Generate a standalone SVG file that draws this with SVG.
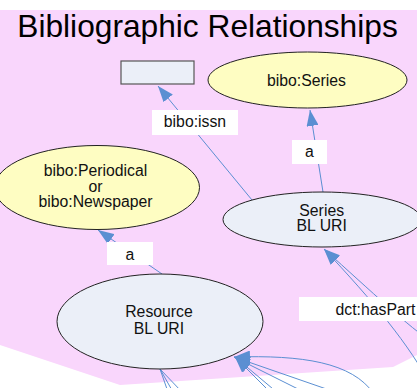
<svg xmlns="http://www.w3.org/2000/svg" width="417" height="388" viewBox="0 0 417 388">
<defs>
<style>
.bg{fill:#f9d6fc}
.title{font-family:"Liberation Sans",Arial,sans-serif;font-size:31.7px;fill:#000;text-anchor:middle}
.t{font-family:"Liberation Sans",Arial,sans-serif;font-size:15.8px;fill:#111;text-anchor:middle}
.blue{fill:#ebeff8;stroke:#222;stroke-width:1}
.yellow{fill:#fefdc2;stroke:#222;stroke-width:1}
.box{fill:#ebeff8;stroke:#555;stroke-width:1.2}
.edge{fill:none;stroke:#5b8fd2;stroke-width:1}
.lbl{fill:#fff}
</style>
<marker id="arr" viewBox="0 0 16 12" refX="16" refY="6" markerWidth="16" markerHeight="12" markerUnits="userSpaceOnUse" orient="auto">
<path d="M0,0 L16,6 L0,12 z" fill="#5b8fd2"/>
</marker>
</defs>
<rect x="0" y="0" width="417" height="388" fill="#fff"/>
<polygon class="bg" points="0,10 417,10 417,355 393,367 120,385 0,345"/>
<text class="title" x="207.5" y="37">Bibliographic Relationships</text>

<g id="connectors">
<path class="edge" d="M252,200 L158,86" marker-end="url(#arr)"/>
<path class="edge" d="M323,192 L310,110" marker-end="url(#arr)"/>
<path class="edge" d="M162,274 L98,230" marker-end="url(#arr)"/>
<path class="edge" d="M432,388 C410,345 372,300 324,249" marker-end="url(#arr)"/>
<path class="edge" d="M432,342 C410,328 372,292 324,249" marker-end="url(#arr)"/>
<path class="edge" d="M374,394 C352,362 302,355 234,357" marker-end="url(#arr)"/>
<path class="edge" d="M338,393 L234,357" marker-end="url(#arr)"/>
<path class="edge" d="M306,393 L234,357" marker-end="url(#arr)"/>
<path class="edge" d="M279,394 L235,357" marker-end="url(#arr)"/>
<path class="edge" d="M272,394 L235,357" marker-end="url(#arr)"/>
<path class="edge" d="M160,369 L168,392"/>
<path class="edge" d="M160,369 L173,392"/>
<path class="edge" d="M160,369 L182,392"/>
<g id="edge-labels">
<rect class="lbl" x="152" y="110" width="86" height="25"/>
<text class="t" x="195" y="127.3">bibo:issn</text>
<rect class="lbl" x="292" y="140" width="35" height="24"/>
<text class="t" x="309.5" y="157.3">a</text>
<rect class="lbl" x="107" y="242" width="46" height="23"/>
<text class="t" x="130" y="259.5">a</text>
<rect class="lbl" x="299" y="297" width="153" height="24"/>
<text class="t" x="375.5" y="315.3">dct:hasPart</text>
</g>
</g>

<g id="node-issn">
<rect class="box" x="121" y="61" width="73" height="23"/>
</g>
<g id="node-bibo-series">
<ellipse class="yellow" cx="307.5" cy="80" rx="99.5" ry="28"/>
<text class="t" x="306.5" y="85.5">bibo:Series</text>
</g>
<g id="node-periodical">
<ellipse class="yellow" cx="97" cy="187.5" rx="102.5" ry="42"/>
<text class="t" x="95.5" y="175.7">bibo:Periodical</text>
<text class="t" x="95.5" y="191.5">or</text>
<text class="t" x="95.5" y="207.3">bibo:Newspaper</text>
</g>
<g id="node-series-uri">
<ellipse class="blue" cx="322" cy="219.5" rx="99" ry="27.5"/>
<text class="t" x="321.7" y="215.7">Series</text>
<text class="t" x="321.7" y="231.3">BL URI</text>
</g>
<g id="node-resource-uri">
<ellipse class="blue" cx="160" cy="321.5" rx="103" ry="47.5"/>
<text class="t" x="159" y="317.3">Resource</text>
<text class="t" x="159" y="333.7">BL URI</text>
</g>
</svg>
